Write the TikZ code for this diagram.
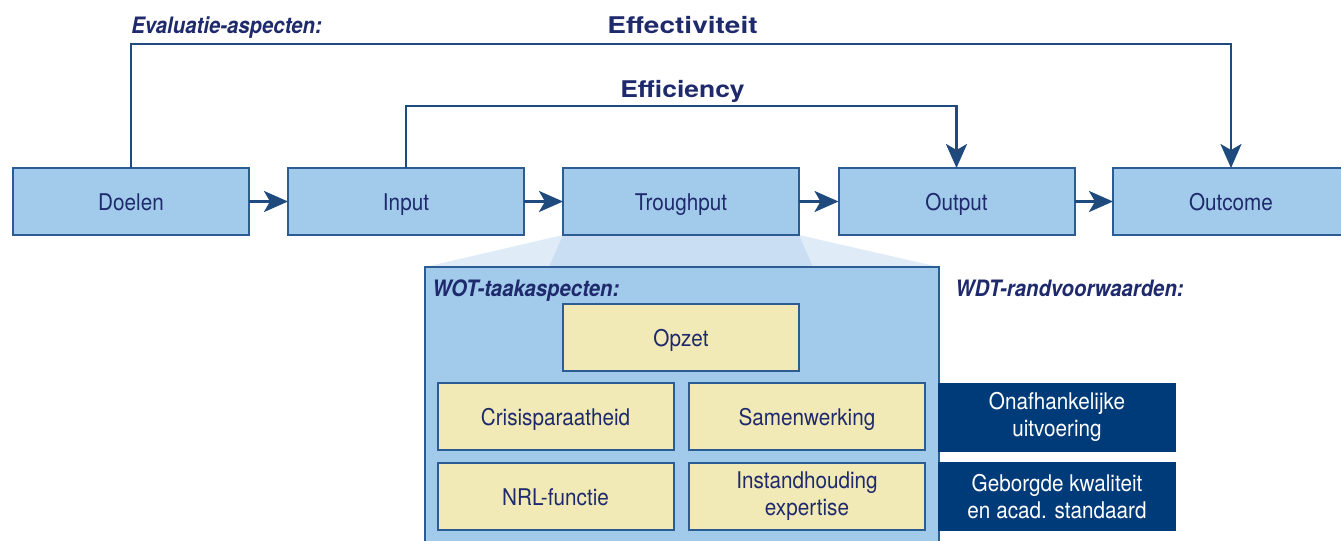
\documentclass[tikz,border=0pt]{standalone}
\usepackage{fontspec}
\setmainfont{TeX Gyre Heros}[FakeStretch=0.9]
\newfontfamily\widefont{TeX Gyre Heros}[FakeStretch=1.15]
\newfontfamily\widerfont{TeX Gyre Heros}[FakeStretch=1.22]
\usetikzlibrary{arrows.meta}
\definecolor{navy}{HTML}{1E2A6C}
\definecolor{lblue}{HTML}{A2CBEB}
\definecolor{bord}{HTML}{2B5D94}
\definecolor{line}{HTML}{1F4A7E}
\definecolor{trapout}{HTML}{DFECF7}
\definecolor{trapin}{HTML}{C9DEF2}
\definecolor{yel}{HTML}{F2EAB6}
\definecolor{dark}{HTML}{003B79}
\tikzset{
  box/.style={draw=bord, line width=1pt, fill=lblue, inner sep=0pt, outer sep=0pt,
    minimum width=118pt, minimum height=33.5pt, text=navy, font=\fontsize{11.5}{13.5}\selectfont, align=center},
  one/.style={text height=9.5pt, text depth=0.5pt},
  ybox/.style={box, fill=yel},
  dbox/.style={box, draw=dark, fill=dark, text=white},
  conn/.style={draw=line, line width=1.4pt},
  arr/.style={conn, -{Stealth[length=12pt,width=10.5pt,inset=3pt]}},
  lab/.style={text=navy, font=\fontsize{11.3}{13}\selectfont\bfseries\itshape, inner sep=0pt},
  big/.style={text=navy, font=\fontsize{11.5}{13}\selectfont\widefont\bfseries, inner sep=0pt}
}
\begin{document}
\begin{tikzpicture}[x=0.5pt,y=-0.5pt]
\useasboundingbox (0,0) rectangle (1341,541);
% trapezoids
\fill[trapout] (563,235) -- (799,235) -- (939,267) -- (425,267) -- cycle;
\fill[trapin] (563,235) -- (799,235) -- (813,267) -- (549,267) -- cycle;
% WOT container
\draw[draw=bord, line width=1pt, fill=lblue] (425,267) rectangle (939,560);
% top boxes
\node[box, one] (doelen) at (131,201.5) {Doelen};
\node[box, one] (input) at (406,201.5) {Input};
\node[box, one] (trough) at (681,201.5) {Troughput};
\node[box, one] (output) at (956.5,201.5) {Output};
\node[box, one] (outcome) at (1231,201.5) {Outcome};
% arrows between boxes
\draw[arr] (doelen.east) -- (input.west);
\draw[arr] (input.east) -- (trough.west);
\draw[arr] (trough.east) -- (output.west);
\draw[arr] (output.east) -- (outcome.west);
% evaluation loops
\coordinate (e1) at (131,44);
\coordinate (e2) at (1231,44);
\draw[arr] (doelen.north) -- (e1) -- (e2) -- (outcome.north);
\coordinate (f1) at (406,106);
\coordinate (f2) at (956.5,106);
\draw[arr] (input.north) -- (f1) -- (f2) -- (output.north);
% labels
\node[lab, anchor=base west] (eval) at (131,33) {Evaluatie-aspecten:};
\node[big, font=\fontsize{11.5}{13}\selectfont\widerfont\bfseries, anchor=base] (effect) at (682.5,33) {Effectiviteit};
\node[big, anchor=base] (effic) at (682.5,97) {Efficiency};
\node[lab, anchor=base west] (wot) at (432,296) {WOT-taakaspecten:};
\node[lab, anchor=base west] (wdt) at (955,296) {WDT-randvoorwaarden:};
% inner boxes
\node[ybox, one] (opzet) at (681,337.5) {Opzet};
\node[ybox, one] (crisis) at (555.5,416.5) {Crisisparaatheid};
\node[ybox, one] (samen) at (807,416.5) {Samenwerking};
\node[ybox, one] (nrl) at (555.5,496.5) {NRL-functie};
\node[ybox] (inst) at (807,496.5) {Instandhouding\\expertise};
\node[dbox] (onaf) at (1057,417) {Onafhankelijke\\uitvoering};
\node[dbox] (gebo) at (1057,496.5) {Geborgde kwaliteit\\en acad. standaard};
\end{tikzpicture}
\end{document}
